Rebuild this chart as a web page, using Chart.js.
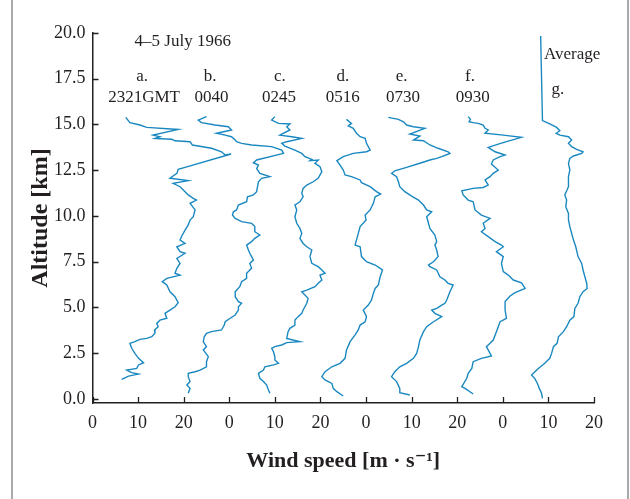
<!DOCTYPE html>
<html>
<head>
<meta charset="utf-8">
<script src="https://cdn.jsdelivr.net/npm/chart.js@4.4.0/dist/chart.umd.min.js"></script>
<style>
  html, body { margin: 0; padding: 0; background: #fff; }
  #wrap { width: 630px; height: 499px; }
</style>
</head>
<body>
<div id="wrap"><canvas id="windChart" width="630" height="499"></canvas></div>
<script>
// wind speed [m/s] vs altitude [km], one list per sounding
const profileA = [[7.3,15.39],[8.2,15.10],[10.4,14.97],[11.9,14.84],[18.8,14.73],[13.3,14.42],[14.8,14.33],[13.7,14.24],[17.4,14.19],[18.1,14.11],[21.4,14.06],[21.9,13.88],[26.1,13.70],[28.3,13.51],[29.1,13.33],[30.4,13.39],[20.3,12.66],[18.8,12.55],[18.5,12.33],[17.0,12.06],[21.0,11.93],[17.7,11.78],[19.2,11.60],[20.3,11.33],[21.0,11.15],[22.1,10.96],[22.8,10.87],[21.4,10.69],[22.5,10.33],[22.1,9.96],[21.4,9.78],[21.0,9.51],[20.3,9.23],[19.7,8.96],[19.2,8.69],[20.3,8.50],[18.5,8.32],[19.2,8.05],[20.3,7.96],[18.5,7.68],[19.2,7.41],[18.5,7.14],[18.1,6.87],[19.2,6.77],[16.3,6.59],[15.3,6.41],[16.3,6.23],[17.0,5.86],[18.1,5.59],[18.8,5.26],[18.1,5.04],[17.0,4.86],[15.9,4.68],[16.3,4.41],[14.8,4.31],[14.1,4.13],[14.4,3.95],[13.6,3.77],[13.7,3.59],[13.0,3.40],[11.9,3.31],[10.4,3.26],[9.3,3.13],[8.2,3.04],[8.6,2.77],[9.3,2.49],[10.1,2.22],[11.2,1.98],[10.1,1.86],[9.7,1.67],[7.5,1.58],[8.6,1.44],[10.1,1.36],[7.9,1.25],[6.4,1.07]];
const profileB = [[10.0,15.43],[8.2,15.24],[8.9,15.10],[11.9,14.97],[14.8,14.88],[15.5,14.70],[12.2,14.52],[14.1,14.42],[15.5,14.33],[16.3,14.15],[16.6,14.06],[17.7,13.97],[19.9,13.88],[24.3,13.79],[26.5,13.60],[26.9,13.42],[21.0,13.06],[20.3,12.91],[21.4,12.78],[21.0,12.60],[21.7,12.33],[23.9,12.15],[22.1,12.06],[21.4,11.87],[21.2,11.60],[21.0,11.33],[20.3,11.15],[19.0,11.05],[18.8,10.78],[17.0,10.60],[16.6,10.33],[15.9,10.23],[15.7,10.05],[16.3,9.87],[17.7,9.69],[19.9,9.60],[20.6,9.42],[20.6,9.14],[21.7,8.96],[20.6,8.78],[19.9,8.60],[18.8,8.41],[19.2,8.14],[19.5,7.96],[19.9,7.78],[20.3,7.59],[19.5,7.41],[19.9,7.14],[18.8,6.87],[18.8,6.59],[17.7,6.41],[17.3,6.14],[16.3,5.86],[16.3,5.59],[17.0,5.32],[17.7,5.23],[17.0,5.04],[17.0,4.86],[16.3,4.59],[15.2,4.41],[14.1,4.22],[13.9,4.04],[13.3,3.77],[11.1,3.68],[10.0,3.59],[9.5,3.40],[9.3,3.13],[10.0,2.86],[9.3,2.68],[10.4,2.31],[10.0,2.04],[10.0,1.76],[8.6,1.58],[7.5,1.49],[6.0,1.40],[6.0,1.22],[6.4,0.95],[5.7,0.76],[6.4,0.58],[6.0,0.31]];
const profileC = [[10.0,15.43],[9.3,15.24],[10.8,15.06],[13.3,15.03],[12.6,14.88],[13.3,14.70],[11.1,14.42],[13.7,14.33],[15.9,14.24],[12.6,14.06],[11.5,13.97],[12.2,13.82],[14.4,13.60],[15.9,13.42],[16.6,13.24],[18.1,13.09],[17.7,13.02],[19.5,13.05],[18.8,12.88],[19.9,12.69],[20.3,12.42],[19.5,12.06],[18.4,11.87],[17.0,11.69],[16.2,11.51],[15.9,11.24],[16.2,11.05],[15.5,10.78],[14.4,10.60],[14.8,10.33],[14.4,9.96],[14.8,9.60],[15.5,9.32],[15.9,9.05],[15.5,8.78],[16.2,8.50],[17.0,8.32],[18.1,8.14],[17.7,7.78],[18.1,7.41],[19.5,7.23],[20.3,7.05],[21.0,6.87],[19.9,6.77],[20.3,6.50],[19.5,6.32],[18.8,6.14],[17.0,5.95],[15.9,5.86],[17.3,5.50],[17.0,5.23],[16.2,4.86],[15.9,4.68],[15.1,4.50],[14.4,4.31],[14.4,4.04],[13.3,3.86],[12.9,3.68],[12.6,3.31],[15.5,3.13],[12.6,3.08],[11.5,2.95],[10.0,2.86],[9.3,2.77],[9.7,2.58],[10.0,2.31],[10.0,2.13],[10.8,1.95],[9.7,1.86],[7.8,1.76],[7.5,1.58],[6.4,1.40],[6.7,1.13],[7.5,0.95],[8.2,0.76],[8.6,0.49],[8.9,0.31]];
const profileD = [[10.7,15.28],[11.8,15.06],[11.1,14.92],[12.2,14.79],[12.9,14.52],[13.7,14.33],[14.8,14.24],[15.1,13.97],[15.9,13.60],[15.1,13.51],[12.2,13.42],[10.0,13.24],[8.6,13.02],[9.3,12.78],[10.0,12.51],[10.4,12.24],[11.8,12.15],[13.7,11.97],[14.0,11.82],[15.9,11.60],[17.3,11.33],[18.2,11.20],[17.0,11.05],[16.6,10.69],[15.9,10.33],[14.8,10.05],[15.0,9.78],[13.7,9.42],[13.3,9.05],[12.6,8.41],[13.7,8.32],[14.0,7.78],[15.1,7.50],[17.0,7.32],[18.1,7.14],[18.6,7.05],[18.1,6.68],[17.7,6.23],[17.0,6.04],[16.6,5.77],[16.2,5.41],[15.5,5.13],[14.4,4.86],[15.1,4.50],[14.8,4.22],[13.7,4.04],[13.3,3.77],[12.6,3.50],[11.5,3.13],[10.7,2.67],[10.4,2.22],[9.3,1.95],[7.5,1.76],[6.0,1.49],[5.3,1.22],[6.0,1.04],[7.5,0.85],[7.8,0.58],[8.6,0.40],[10.0,0.16]];
const profileE = [[4.9,15.39],[7.1,15.28],[8.2,15.15],[8.9,14.97],[10.4,14.88],[12.9,14.79],[9.6,14.48],[11.8,14.37],[10.4,14.15],[12.6,14.11],[14.0,13.88],[15.8,13.70],[18.0,13.51],[18.4,13.42],[16.6,13.24],[15.5,13.15],[14.0,13.06],[11.8,12.88],[8.9,12.66],[6.3,12.47],[5.6,12.33],[6.7,12.15],[7.1,11.87],[7.4,11.60],[8.5,11.33],[10.0,11.09],[11.5,10.87],[12.6,10.60],[13.3,10.33],[14.4,10.23],[13.3,9.96],[13.7,9.60],[14.0,9.32],[15.1,8.96],[15.5,8.60],[15.1,8.41],[15.5,8.14],[15.8,7.78],[14.8,7.50],[13.7,7.32],[14.0,7.23],[15.5,7.05],[16.2,6.68],[17.3,6.50],[18.0,6.32],[19.1,6.23],[18.4,5.86],[17.7,5.41],[17.3,5.23],[16.6,5.13],[15.5,4.95],[14.4,4.86],[15.1,4.68],[16.6,4.50],[14.8,4.22],[13.3,3.95],[12.6,3.68],[11.8,3.22],[11.5,2.86],[11.1,2.49],[10.4,2.22],[8.9,1.95],[7.4,1.76],[6.3,1.49],[5.6,1.22],[6.7,0.95],[7.4,0.58],[7.4,0.34],[9.6,0.22]];
const profileF = [[7.4,15.43],[7.9,15.28],[7.6,15.15],[8.5,15.10],[9.6,15.06],[10.7,14.97],[11.1,14.79],[11.8,14.70],[11.1,14.52],[15.1,14.42],[19.1,14.30],[15.8,14.06],[14.0,13.93],[11.8,13.75],[13.3,13.51],[15.5,13.33],[14.4,13.24],[12.9,13.06],[12.5,12.84],[14.0,12.51],[12.9,12.33],[12.2,12.15],[11.1,11.97],[11.8,11.69],[10.7,11.56],[8.5,11.51],[6.0,11.38],[6.3,11.15],[7.4,10.87],[8.5,10.78],[8.9,10.33],[10.3,10.05],[12.2,9.87],[10.7,9.60],[11.1,9.32],[10.3,9.14],[11.8,8.87],[13.3,8.60],[14.7,8.41],[15.1,8.32],[13.6,8.05],[15.1,7.78],[14.7,7.41],[15.1,6.96],[16.2,6.77],[17.3,6.50],[19.1,6.35],[19.9,6.04],[17.7,5.81],[16.6,5.63],[15.5,5.32],[15.5,4.86],[15.8,4.41],[14.4,4.22],[14.0,3.95],[13.6,3.68],[12.9,3.22],[12.2,3.04],[11.4,2.86],[12.5,2.35],[10.3,2.22],[8.5,2.04],[8.2,1.67],[7.4,1.40],[7.1,1.13],[6.0,0.67],[6.7,0.58],[8.5,0.27]];
const profileG = [[8.3,19.84],[8.7,15.21],[10.3,15.03],[11.8,14.84],[12.5,14.66],[11.7,14.52],[12.5,14.42],[14.4,14.33],[15.1,14.15],[14.4,13.97],[15.1,13.79],[16.2,13.64],[17.6,13.51],[17.3,13.42],[15.5,13.28],[14.7,13.15],[14.4,12.88],[14.7,12.51],[14.4,12.15],[14.4,11.60],[13.6,11.15],[14.0,10.87],[13.8,10.51],[14.4,10.14],[14.4,9.78],[14.7,9.42],[15.1,9.05],[15.5,8.69],[16.0,8.32],[16.5,7.78],[17.3,7.41],[17.6,7.05],[18.0,6.68],[18.4,6.32],[18.5,6.04],[17.6,5.86],[16.9,5.59],[16.5,5.23],[15.8,4.95],[15.6,4.50],[14.7,4.31],[14.0,3.95],[13.3,3.68],[12.2,3.40],[11.9,3.04],[11.1,2.86],[10.7,2.49],[10.3,2.22],[9.2,1.95],[7.8,1.67],[6.3,1.31],[7.0,1.13],[7.6,0.85],[8.0,0.58],[8.5,0.31],[8.7,0.03]];

const profiles = [profileA, profileB, profileC, profileD, profileE, profileF, profileG];
// each sounding is shifted right along the speed axis
const offsets = [0, 15, 30, 45, 60, 75, 90];

const xTicks = [0, 10, 20, 30, 40, 50, 60, 70, 80, 90, 100, 110];
const yTicks = [0, 2.5, 5, 7.5, 10, 12.5, 15, 17.5, 20];

// [text, speed-axis position, altitude]
const notes = [
  ['4–5 July 1966', 19.8, 19.55],
  ['a.', 10.9, 17.6], ['2321GMT', 11.3, 16.5],
  ['b.', 25.8, 17.6], ['0040', 26.1, 16.5],
  ['c.', 41.1, 17.6], ['0245', 40.9, 16.5],
  ['d.', 54.9, 17.6], ['0516', 54.9, 16.5],
  ['e.', 67.8, 17.6], ['0730', 68.1, 16.5],
  ['f.', 82.8, 17.6], ['0930', 83.4, 16.5],
  ['Average', 105.2, 18.8], ['g.', 102.1, 16.9]
];

const serif = '"Liberation Serif", "DejaVu Serif", serif';
const ink = '#231f20';
const lineBlue = '#1a88c0';

const extras = {
  id: 'extras',
  beforeDraw(chart) {
    const ctx = chart.ctx;
    ctx.save();
    ctx.fillStyle = '#fff';
    ctx.fillRect(0, 0, chart.width, chart.height);
    ctx.strokeStyle = '#a9a9a9';
    ctx.lineWidth = 2;
    ctx.beginPath();
    ctx.moveTo(12, 0); ctx.lineTo(12, chart.height);
    ctx.moveTo(628, 0); ctx.lineTo(628, chart.height);
    ctx.stroke();
    ctx.restore();
  },
  afterDraw(chart) {
    const {ctx, chartArea: a, scales: {x, y}} = chart;
    ctx.save();
    // inward tick marks
    ctx.strokeStyle = ink;
    ctx.lineWidth = 1.3;
    ctx.beginPath();
    xTicks.forEach(v => {
      const px = Math.round(x.getPixelForValue(v)) + 0.5;
      ctx.moveTo(px, a.bottom); ctx.lineTo(px, a.bottom - 6);
    });
    yTicks.forEach(v => {
      const py = Math.round(y.getPixelForValue(v)) + 0.5;
      ctx.moveTo(a.left, py); ctx.lineTo(a.left + 6, py);
    });
    ctx.stroke();
    // labels
    ctx.fillStyle = ink;
    ctx.font = '17px ' + serif;
    ctx.textAlign = 'center';
    ctx.textBaseline = 'middle';
    notes.forEach(([t, nx, ny]) => {
      ctx.fillText(t, x.getPixelForValue(nx), y.getPixelForValue(ny));
    });
    ctx.restore();
  }
};

new Chart(document.getElementById('windChart'), {
  type: 'scatter',
  data: {
    datasets: profiles.map((p, i) => ({
      data: p.map(([s, h]) => ({x: s + offsets[i], y: h})),
      showLine: true,
      borderColor: lineBlue,
      borderWidth: 1.4,
      pointRadius: 0,
      tension: 0,
      fill: false
    }))
  },
  options: {
    responsive: false,
    animation: false,
    layout: { padding: { left: 0, right: 36, top: 33, bottom: 0 } },
    plugins: { legend: { display: false }, tooltip: { enabled: false } },
    scales: {
      x: {
        type: 'linear',
        min: 0,
        max: 110,
        afterBuildTicks: s => { s.ticks = xTicks.map(v => ({value: v})); },
        afterFit: s => { s.height = 96; },
        grid: { display: false, drawTicks: false },
        border: { display: true, color: ink, width: 1.5 },
        ticks: {
          color: ink,
          font: { family: serif, size: 18 },
          padding: 9,
          maxRotation: 0,
          autoSkip: false,
          callback: v => v % 30
        },
        title: {
          display: true,
          text: 'Wind speed [m · s⁻¹]',
          color: ink,
          font: { family: serif, size: 22, weight: 'bold' },
          padding: { top: 0, bottom: 24 }
        }
      },
      y: {
        type: 'linear',
        min: -0.22,
        max: 20,
        afterBuildTicks: s => { s.ticks = yTicks.map(v => ({value: v})); },
        afterFit: s => { s.width = 92.5; },
        grid: { display: false, drawTicks: false },
        border: { display: true, color: ink, width: 1.5 },
        ticks: {
          color: ink,
          font: { family: serif, size: 18 },
          padding: 7,
          autoSkip: false,
          callback: v => v.toFixed(1)
        },
        title: {
          display: true,
          text: 'Altitude [km]',
          color: ink,
          font: { family: serif, size: 24, weight: 'bold' },
          padding: { top: 26, bottom: 0 }
        }
      }
    }
  },
  plugins: [extras]
});
</script>
</body>
</html>
